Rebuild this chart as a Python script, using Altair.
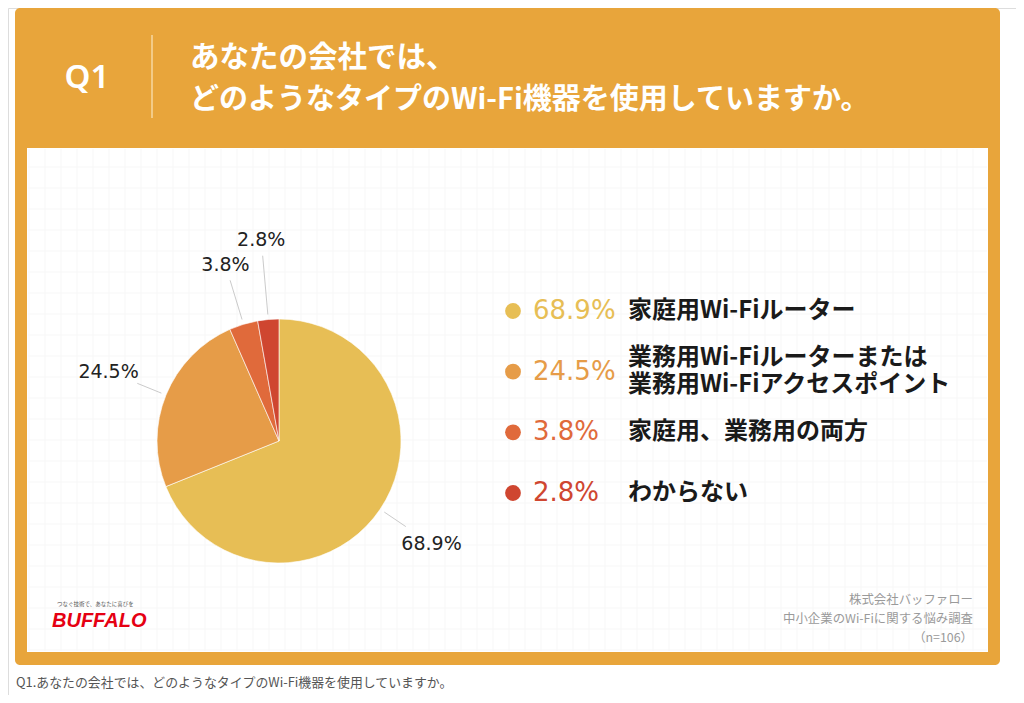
import altair as alt
import pandas as pd

# ---- data ----
categories = [
    "家庭用Wi-Fiルーター",
    "業務用Wi-Fiルーターまたは\n業務用Wi-Fiアクセスポイント",
    "家庭用、業務用の両方",
    "わからない",
]
values = [68.9, 24.5, 3.8, 2.8]
pct_labels = ["68.9%", "24.5%", "3.8%", "2.8%"]
slice_order = [0, 1, 2, 3]
colors = ["#E7BE55", "#E69C48", "#E06A3B", "#CF4630"]

title_q = "Q1"
title_lines = ["あなたの会社では、", "どのようなタイプのWi-Fi機器を使用していますか。"]
source_lines = ["株式会社バッファロー", "中小企業のWi-Fiに関する悩み調査", "（n=106）"]
caption = "Q1.あなたの会社では、どのようなタイプのWi-Fi機器を使用していますか。"
logo_tag = "つなぐ技術で、あなたに喜びを"
logo_text = "BUFFALO"

df = pd.DataFrame({"cat": categories, "value": values, "pct": pct_labels, "idx": slice_order})

# ---- style ----
W, H = 1008, 687
ORANGE = "#E8A53B"
CX, CY, R = 271, 433, 122
JP = "Noto Sans CJK JP"
NUM = "DejaVu Sans"
LH = 27

color_scale = alt.Scale(domain=categories, range=colors)
one = alt.Data(values=[{}])


def box(x1, x2, y1, y2, color, radius=0):
    return alt.Chart(one).mark_rect(color=color, cornerRadius=radius).encode(
        x=alt.value(x1), x2=alt.value(x2), y=alt.value(y1), y2=alt.value(y2)
    )


def label(text, x, y, size, color, align="left", weight="normal", font=JP, style="normal"):
    return alt.Chart(alt.Data(values=[{"t": text}])).mark_text(
        align=align, baseline="middle", fontSize=size, color=color,
        fontWeight=weight, font=font, fontStyle=style
    ).encode(x=alt.value(x), y=alt.value(y), text="t:N")


orange_panel = box(7, 992, 0, 657, ORANGE, 5)
white_panel = box(19, 980, 140, 644, "#FFFFFF")

grid_v = alt.Chart(alt.sequence(21, 980, 16)).mark_rule(color="#F7F7F7", strokeWidth=1).encode(
    x=alt.X("data:Q", scale=None), y=alt.value(141), y2=alt.value(643)
)
grid_h = alt.Chart(alt.sequence(159, 644, 21)).mark_rule(color="#F7F7F7", strokeWidth=1).encode(
    y=alt.Y("data:Q", scale=None), x=alt.value(20), x2=alt.value(979)
)

divider = alt.Chart(one).mark_rule(color="#F7D9A2", strokeWidth=1.5).encode(
    x=alt.value(144), y=alt.value(27), y2=alt.value(110)
)

header = [
    label(title_q, 79, 70, 33, "#FFFFFF", align="center", weight=600, font="Noto Sans"),
    label(title_lines[0], 182, 50, 29.5, "#FFFFFF", weight="bold"),
    label(title_lines[1], 182, 92, 29, "#FFFFFF", weight="bold"),
]

# ---- pie ----
pie = alt.Chart(df).mark_arc(outerRadius=R, stroke="#FFFFFF", strokeWidth=0.6).encode(
    theta=alt.Theta("value:Q", stack=True),
    order=alt.Order("idx:Q"),
    color=alt.Color("cat:N", scale=color_scale, legend=None),
    x=alt.value(CX),
    y=alt.value(CY),
)

geo = (
    alt.Chart(df)
    .transform_joinaggregate(total="sum(value)")
    .transform_window(cum="sum(value)", sort=[alt.SortField("idx")])
    .transform_calculate(
        mid="(datum.cum - datum.value / 2) / datum.total * 2 * PI",
        lr="datum.value < 3 ? 202 : 184",
    )
    .transform_calculate(
        r1="127",
        r2="datum.value < 5 ? datum.lr - 16 : datum.lr - 31",
    )
    .transform_calculate(
        lx=f"{CX} + datum.lr * sin(datum.mid)",
        ly=f"{CY} - datum.lr * cos(datum.mid)",
        ax=f"{CX} + datum.r1 * sin(datum.mid)",
        ay=f"{CY} - datum.r1 * cos(datum.mid)",
        bx=f"{CX} + datum.r2 * sin(datum.mid)",
        by=f"{CY} - datum.r2 * cos(datum.mid)",
    )
)

leaders = geo.mark_rule(color="#BDBDBD", strokeWidth=0.8).encode(
    x=alt.X("ax:Q", scale=None), y=alt.Y("ay:Q", scale=None),
    x2="bx:Q", y2="by:Q",
)
pie_labels = geo.mark_text(font=NUM, fontSize=19, color="#222222", baseline="middle").encode(
    x=alt.X("lx:Q", scale=None), y=alt.Y("ly:Q", scale=None), text="pct:N"
)

# ---- legend ----
ypos = alt.Y("idx:Q", scale=alt.Scale(domain=[0, 3], range=[303, 485]), axis=None)
dots = alt.Chart(df).mark_point(filled=True, shape="circle", size=250, opacity=1).encode(
    x=alt.value(505), y=ypos, color=alt.Color("cat:N", scale=color_scale, legend=None)
)
pcts = alt.Chart(df).mark_text(align="left", baseline="middle", font=NUM, fontSize=26).encode(
    x=alt.value(525), y=ypos, text="pct:N",
    color=alt.Color("cat:N", scale=color_scale, legend=None),
)
name_style = dict(
    align="left", baseline="middle", font=JP, fontSize=24, fontWeight="bold",
    lineBreak="\n", lineHeight=LH, color="#1A1A1A",
)
names_single = (
    alt.Chart(df)
    .transform_filter("indexof(datum.cat, '\\n') < 0")
    .mark_text(**name_style)
    .encode(x=alt.value(620), y=ypos, text="cat:N")
)
names_double = (
    alt.Chart(df)
    .transform_filter("indexof(datum.cat, '\\n') >= 0")
    .mark_text(dy=-LH / 2, **name_style)
    .encode(x=alt.value(620), y=ypos, text="cat:N")
)

# ---- footer ----
footer = [
    label(source_lines[0], 965, 592, 12.4, "#9A9A9A", align="right"),
    label(source_lines[1], 965, 611, 12.4, "#9A9A9A", align="right"),
    label(source_lines[2], 965, 630, 12.4, "#9A9A9A", align="right"),
    label(logo_tag, 49, 596, 5.5, "#555555"),
    label(logo_text, 44, 613, 20, "#E50012", weight="bold", font="Liberation Sans", style="italic"),
    label(caption, 8, 675, 12.9, "#555555"),
]

chart = alt.layer(
    orange_panel, white_panel, grid_v, grid_h, divider, *header,
    pie, leaders, pie_labels, dots, pcts, names_single, names_double, *footer,
).properties(
    width=W, height=H, autosize=alt.AutoSizeParams(type="none"), padding=0
).configure_view(stroke=None).configure(background="#FFFFFF")

chart.save("out.html", embed_options={"renderer": "svg", "actions": False})
